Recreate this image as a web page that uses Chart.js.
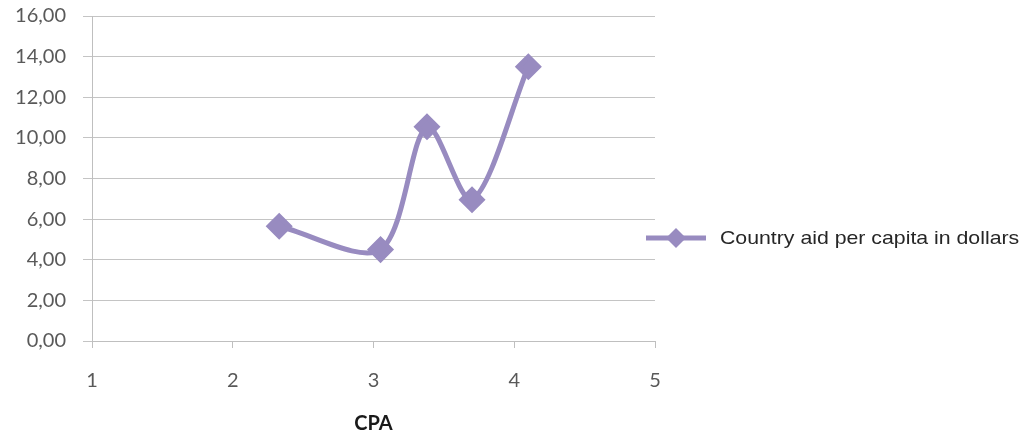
<!DOCTYPE html>
<html>
<head>
<meta charset="utf-8">
<script src="https://cdn.jsdelivr.net/npm/chart.js@4"></script>
<style>
  html, body { margin: 0; padding: 0; background: #fff; }
  #wrap { position: relative; width: 1029px; height: 438px; }
  #legend { position: absolute; left: 645px; top: 225px; height: 26px; display: flex; align-items: center;
            font-family: "Liberation Sans", Arial, sans-serif; font-size: 18.5px; color: #262626; white-space: nowrap; }
  #legend svg { margin-right: 13px; }
  #legend span { display: inline-block; transform: scaleX(1.15); transform-origin: left center; }
</style>
</head>
<body>
<div id="wrap">
  <canvas id="c" width="1029" height="438"></canvas>
  <div id="legend"></div>
</div>
<script>
// Data
const seriesName = "Country aid per capita in dollars";
const cpaValues = [2.33, 3.05, 3.38, 3.70, 4.10];
const aidValues = [5.65, 4.50, 10.55, 6.95, 13.50];
const xTicks = [1, 2, 3, 4, 5];
const yTickLabels = ["0,00", "2,00", "4,00", "6,00", "8,00", "10,00", "12,00", "14,00", "16,00"];
const xTitle = "CPA";

const lineColor = "rgb(152,139,192)";
const points = cpaValues.map((x, i) => ({ x: x, y: aidValues[i] }));

new Chart(document.getElementById('c'), {
  type: 'line',
  data: {
    datasets: [{
      label: seriesName,
      data: points,
      borderColor: lineColor,
      backgroundColor: lineColor,
      borderWidth: 5,
      tension: 0.3,
      pointStyle: 'rectRot',
      pointRadius: 10,
      pointHoverRadius: 10,
      pointBackgroundColor: lineColor,
      pointBorderColor: lineColor,
      fill: false
    }]
  },
  options: {
    responsive: false,
    animation: false,
    devicePixelRatio: 1,
    layout: { padding: { top: 16, right: 374, left: 0, bottom: 0 } },
    plugins: { legend: { display: false }, tooltip: { enabled: false } },
    scales: {
      x: {
        type: 'linear',
        min: 1, max: 5,
        afterBuildTicks: s => { s.ticks = xTicks.map(v => ({ value: v })); },
        afterFit: s => { s.height = 97; s.paddingLeft = 0; s.paddingRight = 0; },
        grid: { drawOnChartArea: false, drawTicks: true, tickLength: 7, color: '#bfbfbf', tickColor: '#bfbfbf' },
        border: { display: true, color: '#bfbfbf', width: 1 },
        ticks: { padding: 21, color: '#595959', font: { family: 'Lato, "Open Sans", sans-serif', size: 20 }, callback: v => String(v) },
        title: { display: true, text: xTitle, color: '#1a1a1a', padding: { top: 4, bottom: 2 },
                 font: { family: 'Lato, "Open Sans", sans-serif', size: 20, weight: 'bold' } }
      },
      y: {
        min: 0, max: 16,
        afterBuildTicks: s => { s.ticks = yTickLabels.map((l, i) => ({ value: i * 2 })); },
        afterFit: s => { s.width = 92; s.paddingTop = 0; s.paddingBottom = 0; },
        grid: { color: '#c4c4c4', tickColor: '#c4c4c4', tickLength: 9, lineWidth: 1 },
        border: { display: true, color: '#bfbfbf', width: 1 },
        ticks: { padding: 17, color: '#595959', font: { family: 'Lato, "Open Sans", sans-serif', size: 20 },
                 callback: (v) => yTickLabels[Math.round(v / 2)] }
      }
    }
  }
});

// Legend (HTML text)
const lg = document.getElementById('legend');
lg.innerHTML = '<svg width="62" height="26"><line x1="1" y1="13" x2="61" y2="13" stroke="' + lineColor +
  '" stroke-width="5"/><polygon points="31,3 41,13 31,23 21,13" fill="' + lineColor + '"/></svg><span></span>';
lg.querySelector('span').textContent = seriesName;
</script>
</body>
</html>
